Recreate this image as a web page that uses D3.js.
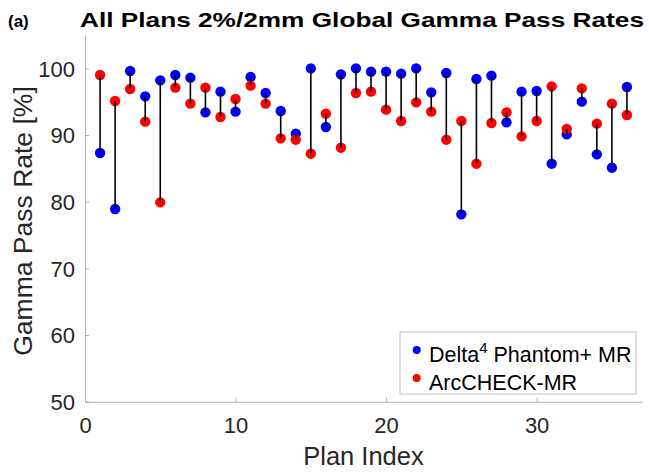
<!DOCTYPE html>
<html>
<head>
<meta charset="utf-8">
<script src="https://cdn.jsdelivr.net/npm/d3@7/dist/d3.min.js"></script>
<style>
  html, body { margin: 0; padding: 0; background: #fff; }
  svg { display: block; font-family: "Liberation Sans", Arial, Helvetica, sans-serif; }
</style>
</head>
<body>
<svg id="chart" width="649" height="472"></svg>
<script>
// ---- data ----
const planIndex = d3.range(1, 37);
const delta4 = [87.3, 78.9, 99.6, 95.8, 98.2, 99.0, 98.6, 93.4, 96.5, 93.5,
                98.7, 96.3, 93.6, 90.2, 100.0, 91.2, 99.1, 100.0, 99.5, 99.5,
                99.2, 100.0, 96.4, 99.3, 78.1, 98.4, 98.9, 91.9, 96.5, 96.6,
                85.7, 90.1, 95.0, 87.1, 85.1, 97.2];
const arccheck = [99.0, 95.1, 96.9, 92.0, 79.9, 97.1, 94.7, 97.1, 92.7, 95.4,
                  97.4, 94.7, 89.5, 89.3, 87.2, 93.2, 88.1, 96.3, 96.5, 93.8,
                  92.1, 94.9, 93.5, 89.3, 92.1, 85.7, 91.8, 93.4, 89.8, 92.1,
                  97.3, 90.9, 97.0, 91.7, 94.7, 93.0];
const xTicks = [0, 10, 20, 30];
const yTicks = [50, 60, 70, 80, 90, 100];
const seriesNames = ["Delta4", "ArcCHECK-MR"];
const seriesColors = ["#0000ff", "#ff0000"];

// ---- layout ----
const svg = d3.select("#chart");
const x = d3.scaleLinear().domain([0, 37]).range([85, 642]);
const y = d3.scaleLinear().domain([50, 105]).range([401.7, 35]);
const axisColor = "#b3b3b3";
const textColor = "#262626";

// axes
const xAxis = svg.append("g")
  .attr("transform", `translate(0,${y(50)})`)
  .call(d3.axisBottom(x).tickValues(xTicks).tickFormat(d3.format("d"))
        .tickSizeInner(-4).tickSizeOuter(0).tickPadding(16));
const yAxis = svg.append("g")
  .attr("transform", `translate(${x(0)},0)`)
  .call(d3.axisLeft(y).tickValues(yTicks).tickFormat(d3.format("d"))
        .tickSizeInner(-4).tickSizeOuter(0).tickPadding(10));
[xAxis, yAxis].forEach(g => {
  g.select(".domain").attr("stroke", axisColor).attr("stroke-width", 1);
  g.selectAll(".tick line").attr("stroke", axisColor);
  g.selectAll(".tick text").attr("fill", textColor)
    .style("font-size", "22px").style("font-family", "'Liberation Sans', Arial, sans-serif");
});
yAxis.selectAll(".tick text").attr("dy", "0.36em");

// data rows
const rows = planIndex.map((p, i) => ({p, a: delta4[i], b: arccheck[i]}));

// markers
const r = 5.2;
svg.append("g").selectAll("circle").data(rows).join("circle")
  .attr("cx", d => x(d.p)).attr("cy", d => y(d.a)).attr("r", r)
  .attr("fill", seriesColors[0]);
svg.append("g").selectAll("circle").data(rows).join("circle")
  .attr("cx", d => x(d.p)).attr("cy", d => y(d.b)).attr("r", r)
  .attr("fill", seriesColors[1]);
// connecting lines
svg.append("g").selectAll("line").data(rows).join("line")
  .attr("x1", d => x(d.p)).attr("x2", d => x(d.p))
  .attr("y1", d => y(d.a)).attr("y2", d => y(d.b))
  .attr("stroke", "#000").attr("stroke-width", 1.6);

// axis labels
svg.append("text")
  .attr("x", x(37) / 2 + x(0) / 2).attr("y", 465)
  .attr("text-anchor", "middle").attr("fill", textColor)
  .style("font-size", "25.5px").text("Plan Index");
svg.append("text")
  .attr("transform", `translate(32,${221}) rotate(-90)`)
  .attr("text-anchor", "middle").attr("fill", textColor)
  .style("font-size", "26.5px").text("Gamma Pass Rate [%]");

// title
svg.append("text").attr("x", 8).attr("y", 26.5)
  .attr("font-weight", "bold").style("font-size", "17px").attr("fill", "#000")
  .text("(a)");
svg.append("text").attr("x", 80).attr("y", 27.3)
  .attr("font-weight", "bold").style("font-size", "20.5px").attr("fill", "#000")
  .attr("textLength", 564).attr("lengthAdjust", "spacingAndGlyphs")
  .text("All Plans 2%/2mm Global Gamma Pass Rates");

// legend
const lg = svg.append("g");
lg.append("rect").attr("x", 400).attr("y", 332).attr("width", 236).attr("height", 62)
  .attr("fill", "#fff").attr("stroke", "#bdbdbd").attr("stroke-width", 1);
const legY = [350, 378];
seriesNames.forEach((name, i) => {
  lg.append("circle").attr("cx", 416.7).attr("cy", legY[i]).attr("r", 4)
    .attr("fill", seriesColors[i]);
  const t = lg.append("text").attr("x", 429).attr("y", legY[i] + 11.5)
    .attr("fill", "#000").style("font-size", "21.5px");
  if (i === 0) {
    t.append("tspan").text("Delta");
    t.append("tspan").attr("dy", -9).style("font-size", "15px").text("4");
    t.append("tspan").attr("dy", 9).text(" Phantom+ MR");
  } else {
    t.text(name);
  }
});
</script>
</body>
</html>
